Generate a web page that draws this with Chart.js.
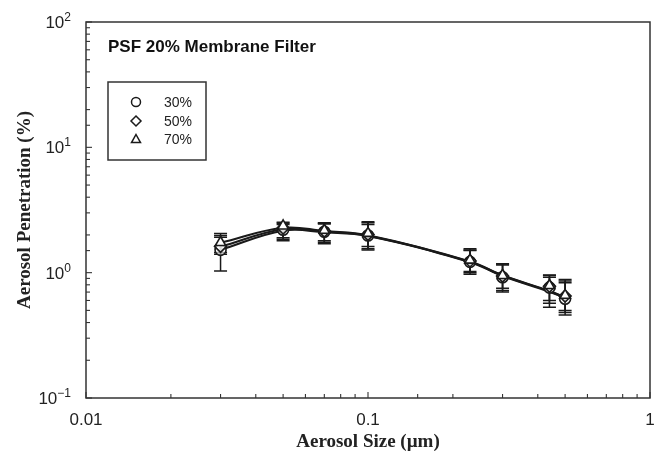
<!DOCTYPE html>
<html>
<head>
<meta charset="utf-8">
<script src="https://cdn.jsdelivr.net/npm/chart.js@4.4.1/dist/chart.umd.min.js"></script>
<style>
  html, body { margin: 0; padding: 0; background: #fff; }
  #wrap { width: 665px; height: 461px; }
</style>
</head>
<body>
<div id="wrap"><canvas id="c" width="665" height="461"></canvas></div>
<script>
// ---- data ----
const chartTitle = 'PSF 20% Membrane Filter';
const seriesLabels = ['30%', '50%', '70%'];
const sizes = [0.03, 0.05, 0.07, 0.1, 0.23, 0.3, 0.44, 0.5];
// measured penetration (markers)
const pen30 = [1.52, 2.20, 2.12, 1.98, 1.22, 0.92, 0.76, 0.62];
const pen50 = [1.62, 2.27, 2.15, 2.02, 1.24, 0.94, 0.78, 0.65];
const pen70 = [1.74, 2.36, 2.18, 2.06, 1.26, 0.95, 0.79, 0.66];
// error bar ends
const lo30 = [1.03, 1.80, 1.70, 1.52, 0.97, 0.70, 0.53, 0.46];
const hi30 = [1.92, 2.42, 2.45, 2.42, 1.50, 1.15, 0.92, 0.83];
const lo50 = [1.40, 1.85, 1.75, 1.55, 1.00, 0.72, 0.57, 0.48];
const hi50 = [1.98, 2.48, 2.48, 2.50, 1.52, 1.17, 0.95, 0.86];
const lo70 = [1.45, 1.90, 1.80, 1.62, 1.02, 0.75, 0.60, 0.50];
const hi70 = [2.05, 2.52, 2.50, 2.55, 1.55, 1.18, 0.96, 0.88];
// fitted curves at the same sizes
const fit30 = [1.52, 2.16, 2.10, 1.96, 1.21, 0.94, 0.705, 0.628];
const fit50 = [1.61, 2.22, 2.12, 1.97, 1.22, 0.95, 0.71, 0.632];
const fit70 = [1.73, 2.28, 2.15, 1.99, 1.23, 0.955, 0.715, 0.636];
const xTickLabels = ['0.01', '0.1', '1'];
const yTickExponents = ['-1', '0', '1', '2'];
const xTitle = 'Aerosol Size (\u00b5m)';
const yTitle = 'Aerosol Penetration (%)';

const pens = [pen30, pen50, pen70];
const fits = [fit30, fit50, fit70];
const los = [lo30, lo50, lo70];
const his = [hi30, hi50, hi70];
const styles = ['circle', 'rectRot', 'triangle'];
const INK = '#1a1a1a';

function pts(arr) { return sizes.map((x, i) => ({ x: x, y: arr[i] })); }

const datasets = [];
fits.forEach((p, k) => {
  datasets.push({
    label: seriesLabels[k] + ' fit', data: pts(p), showLine: true,
    borderColor: INK, borderWidth: 2, pointRadius: 0, pointHoverRadius: 0,
    tension: 0.4, fill: false, order: 10
  });
});
pens.forEach((p, k) => {
  datasets.push({
    label: seriesLabels[k], data: pts(p), showLine: false,
    pointStyle: styles[k], pointRadius: k === 0 ? 5.5 : 6, pointBorderWidth: 1.6,
    pointBackgroundColor: k === 2 ? '#fff' : 'rgba(255,255,255,0.6)',
    pointBorderColor: INK, order: 5 - k,
    errLo: los[k], errHi: his[k]
  });
});

function isPow10(v) {
  const l = Math.log10(v);
  return Math.abs(l - Math.round(l)) < 1e-9;
}

const decor = {
  id: 'decor',
  beforeDatasetsDraw(chart) {
    const ctx = chart.ctx, xs = chart.scales.x, ys = chart.scales.y;
    ctx.save();
    ctx.strokeStyle = INK; ctx.lineWidth = 1.5;
    chart.data.datasets.forEach(ds => {
      if (!ds.errLo) return;
      ds.data.forEach((d, i) => {
        const px = xs.getPixelForValue(d.x);
        const yl = ys.getPixelForValue(ds.errLo[i]);
        const yh = ys.getPixelForValue(ds.errHi[i]);
        ctx.beginPath();
        ctx.moveTo(px, yl); ctx.lineTo(px, yh);
        ctx.moveTo(px - 6.5, yl); ctx.lineTo(px + 6.5, yl);
        ctx.moveTo(px - 6.5, yh); ctx.lineTo(px + 6.5, yh);
        ctx.stroke();
      });
    });
    ctx.restore();
  },
  afterDraw(chart) {
    const ctx = chart.ctx, xs = chart.scales.x, ys = chart.scales.y;
    const a = chart.chartArea;
    ctx.save();
    // frame
    ctx.strokeStyle = '#333'; ctx.lineWidth = 1.5;
    ctx.strokeRect(a.left, a.top, a.right - a.left, a.bottom - a.top);
    // inward ticks
    ctx.lineWidth = 1.1; ctx.strokeStyle = '#333';
    xs.ticks.forEach(t => {
      const px = xs.getPixelForValue(t.value);
      const len = isPow10(t.value) ? 6 : 4;
      ctx.beginPath(); ctx.moveTo(px, a.bottom); ctx.lineTo(px, a.bottom - len); ctx.stroke();
    });
    ys.ticks.forEach(t => {
      const py = ys.getPixelForValue(t.value);
      const len = isPow10(t.value) ? 6 : 4;
      ctx.beginPath(); ctx.moveTo(a.left, py); ctx.lineTo(a.left + len, py); ctx.stroke();
    });
    // y tick labels with superscript exponents
    ctx.fillStyle = '#222';
    ctx.textBaseline = 'alphabetic';
    yTickExponents.forEach(e => {
      const py = ys.getPixelForValue(Math.pow(10, Number(e)));
      const et = e.replace('-', '\u2212');
      ctx.font = '12px "Liberation Sans", Arial, sans-serif';
      const ew = ctx.measureText(et).width;
      const right = a.left - 15;
      ctx.textAlign = 'left';
      ctx.fillText(et, right - ew, py - 1);
      ctx.font = '17px "Liberation Sans", Arial, sans-serif';
      ctx.textAlign = 'right';
      ctx.fillText('10', right - ew, py + 6);
    });
    // title inside plot
    ctx.textAlign = 'left';
    ctx.font = 'bold 17px "Liberation Sans", Arial, sans-serif';
    ctx.fillStyle = '#111';
    ctx.fillText(chartTitle, 108, 52);
    // legend
    ctx.strokeStyle = '#333'; ctx.lineWidth = 1.5;
    ctx.strokeRect(108, 82, 98, 78);
    const rows = [102, 121, 139];
    ctx.font = '14px "Liberation Sans", Arial, sans-serif';
    ctx.textBaseline = 'middle';
    rows.forEach((ry, k) => {
      const cx = 136, r = 4.5;
      ctx.strokeStyle = INK; ctx.lineWidth = 1.5; ctx.fillStyle = '#fff';
      ctx.beginPath();
      if (k === 0) {
        ctx.arc(cx, ry, r, 0, Math.PI * 2);
      } else if (k === 1) {
        ctx.moveTo(cx, ry - r - 0.5); ctx.lineTo(cx + r + 0.5, ry);
        ctx.lineTo(cx, ry + r + 0.5); ctx.lineTo(cx - r - 0.5, ry); ctx.closePath();
      } else {
        ctx.moveTo(cx, ry - r); ctx.lineTo(cx + r, ry + r * 0.8);
        ctx.lineTo(cx - r, ry + r * 0.8); ctx.closePath();
      }
      ctx.fill(); ctx.stroke();
      ctx.fillStyle = '#222';
      ctx.fillText(seriesLabels[k], 164, ry + 1);
    });
    ctx.restore();
  }
};

new Chart(document.getElementById('c'), {
  type: 'scatter',
  data: { datasets: datasets },
  options: {
    responsive: false,
    animation: false,
    events: [],
    layout: { padding: { left: 0, right: 15, top: 22, bottom: 0 } },
    plugins: { legend: { display: false }, tooltip: { enabled: false }, title: { display: false } },
    scales: {
      x: {
        type: 'logarithmic', min: 0.01, max: 1,
        grid: { display: false }, border: { display: false },
        afterFit: s => { s.height = 63; },
        ticks: {
          autoSkip: false, maxRotation: 0, padding: 4, color: '#222',
          font: { family: '"Liberation Sans", Arial, sans-serif', size: 17 },
          callback: function (v) {
            if (!isPow10(v)) return '';
            const idx = Math.round(Math.log10(v)) + 2;
            return xTickLabels[idx] || '';
          }
        },
        title: {
          display: true, text: xTitle, color: '#222',
          font: { family: '"Liberation Serif", "Times New Roman", serif', size: 19, weight: 'bold' },
          padding: { top: 0, bottom: 8 }
        }
      },
      y: {
        type: 'logarithmic', min: 0.1, max: 100,
        grid: { display: false }, border: { display: false },
        afterFit: s => { s.width = 86; },
        ticks: { display: false, autoSkip: false },
        title: {
          display: true, text: yTitle, color: '#222',
          font: { family: '"Liberation Serif", "Times New Roman", serif', size: 19, weight: 'bold' },
          padding: { top: 14, bottom: 0 }
        }
      }
    }
  },
  plugins: [decor]
});
</script>
</body>
</html>
